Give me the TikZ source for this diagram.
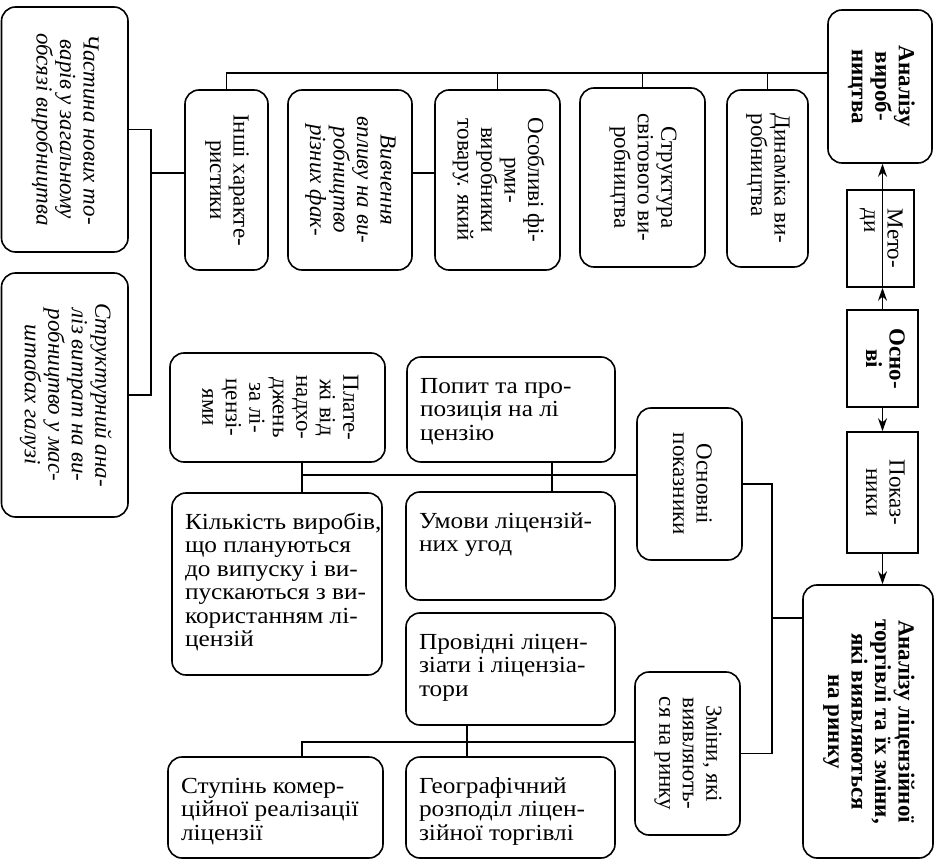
\documentclass[tikz,border=0pt]{standalone}
\usepackage{graphicx}
\usepackage{fontspec}
\setmainfont{Liberation Serif}
\newfontfamily\widefont[FakeStretch=1.1]{Liberation Serif}
\usetikzlibrary{arrows.meta}

\tikzset{
  every node/.style={font=\fontsize{23}{23.5}\selectfont},
  box/.style={draw, line width=1.6pt, rounded corners=14pt, inner sep=0pt},
  sbox/.style={draw, line width=1.6pt, inner sep=0pt},
  link/.style={line width=1.6pt},
  arr/.style={line width=1.6pt, -{Stealth[length=13pt,width=9pt]}},
}

% box given by its corners: [style]{name}{x1}{y1}{x2}{y2}{content}
\newcommand\bx[7][box]{%
  \pgfmathsetmacro\bw{#5-#3}\pgfmathsetmacro\bh{#6-#4}%
  \node[#1,minimum width=\bw pt,minimum height=\bh pt] (#2) at ({(#3+#5)/2},{(#4+#6)/2}) {#7};}

% box with horizontal lines of text set from its top left corner
\newcommand\hbx[6]{%
  \pgfmathsetmacro\bw{#4-#2}\pgfmathsetmacro\bh{#5-#3}%
  \node[box,minimum width=\bw pt,minimum height=\bh pt] (#1) at ({(#2+#4)/2},{(#3+#5)/2})
    {\parbox[c][\bh pt][t]{\bw pt}{\vspace*{20pt}\noindent\hspace*{13pt}%
      \widefont\begin{tabular}[t]{@{}l@{}}#6\end{tabular}}};}

% text turned to read from top to bottom
\newcommand\vt[2][c]{\rotatebox{-90}{\begin{tabular}{@{}#1@{}}#2\end{tabular}}}

\begin{document}
\begin{tikzpicture}[x=1pt,y=-1pt]
\useasboundingbox (0,0) rectangle (943,861);

% main column
\bx{A1}{828}{10}{932}{163}{\vt{\bfseries Аналізу\\\bfseries вироб-\\\bfseries ництва}}
\bx[sbox]{meto}{847}{190}{914}{287}{\vt[l]{Мето-\\ди}}
\bx[sbox]{osnv}{847}{310}{918}{407}{\vt{\bfseries Осно-\\\bfseries ві}}
\bx[sbox]{pokaz}{847}{432}{918}{553}{\vt{Показ-\\ники}}
\bx{A2}{803}{585}{933}{858}{\vt{\bfseries Аналізу ліцензійної\\\bfseries торгівлі та їх зміни,\\\bfseries які виявляються\\\bfseries на ринку}}

% production analysis branch
\bx{dyn}{727}{90}{808}{267}{\vt[l]{Динаміка ви-\\робництва}}
\bx{strc}{580}{88}{705}{267}{\vt{Структура\\світового ви-\\робництва}}
\bx{osob}{435}{90}{560}{270}{\vt{Особливі фі-\\рми-\\виробники\\товару. який}}
\bx{vyv}{288}{90}{412}{270}{\vt{\itshape Вивчення\\\itshape впливу на ви-\\\itshape робництво\\\itshape різних фак-}}
\bx{inshi}{185}{90}{268}{270}{\vt{Інші характе-\\ристики}}
\bx{chast}{1.5}{7}{128}{252}{\vt{\itshape Частина нових то-\\\itshape варів у загальному\\\itshape обсязі виробництва}}
\bx{strukt}{1.5}{273}{128}{517}{\vt{\itshape Структурний ана-\\\itshape ліз витрат на ви-\\\itshape робництво у мас-\\\itshape штабах галузі}}

% licence trade branch
\bx{osn}{637}{408}{742}{560}{\vt{Основні\\показники}}
\bx{zmin}{635}{672}{740}{835}{\vt{Зміни, які\\виявляють-\\ся на ринку}}
\bx{plat}{170}{353}{385}{462}{\vt{Плате-\\жі від\\надхо-\\джень\\за лі-\\цензі-\\ями}}
\hbx{popyt}{407}{357}{615}{462}{Попит та про-\\позиція на лі\\цензію}
\hbx{umovy}{406}{492}{615}{600}{Умови ліцензій-\\них угод}
\hbx{prov}{406}{613}{615}{725}{Провідні ліцен-\\зіати і ліцензіа-\\тори}
\hbx{kilk}{172}{493}{382}{675}{Кількість виробів,\\що плануються\\до випуску і ви-\\пускаються з ви-\\користанням лі-\\цензій}
\hbx{stup}{168}{757}{383}{858}{Ступінь комер-\\ційної реалізації\\ліцензії}
\hbx{geo}{406}{757}{615}{858}{Географічний\\розподіл ліцен-\\зійної торгівлі}

% bus points of the connectors
\coordinate (busA) at (226.5,73);
\coordinate (busL) at (151,0);
\coordinate (midU) at (0,173);
\coordinate (busR) at (772,618);
\coordinate (busM) at (302,475);
\coordinate (stubM) at (552,475);
\coordinate (busB) at (302,742);
\coordinate (stubB) at (467,742);

% arrows of the main column
\draw[arr] (osnv.north) -- (osnv.north |- meto.south);
\draw[arr] (meto.south -| osnv.north) -- (A1.south -| osnv.north);
\draw[arr] (osnv.south) -- (pokaz.north -| osnv.south);
\draw[arr] (pokaz.south -| osnv.south) -- (A2.north -| osnv.south);

% production analysis connectors
\draw[link] (A1.west |- busA) -- (busA) -- (inshi.north);
\draw[link] (dyn.north) -- (dyn.north |- busA);
\draw[link] (strc.north) -- (strc.north |- busA);
\draw[link] (osob.north) -- (osob.north |- busA);
\draw[link] (vyv.east |- midU) -- (osob.west |- midU);
\draw[link] (inshi.west |- midU) -- (busL |- midU);
\draw[link] (chast.east) -- (chast.east -| busL) -- (strukt.east -| busL) -- (strukt.east);

% licence trade connectors
\draw[link] (A2.west |- busR) -- (busR);
\draw[link] (osn.east) -- (osn.east -| busR) -- (zmin.east -| busR) -- (zmin.east);
\draw[link] (osn.west |- busM) -- (busM);
\draw[link] (plat.south -| busM) -- (kilk.north -| busM);
\draw[link] (popyt.south -| stubM) -- (umovy.north -| stubM);
\draw[link] (zmin.west |- busB) -- (busB) -- (stup.north -| busB);
\draw[link] (prov.south -| stubB) -- (geo.north -| stubB);
\end{tikzpicture}
\end{document}
